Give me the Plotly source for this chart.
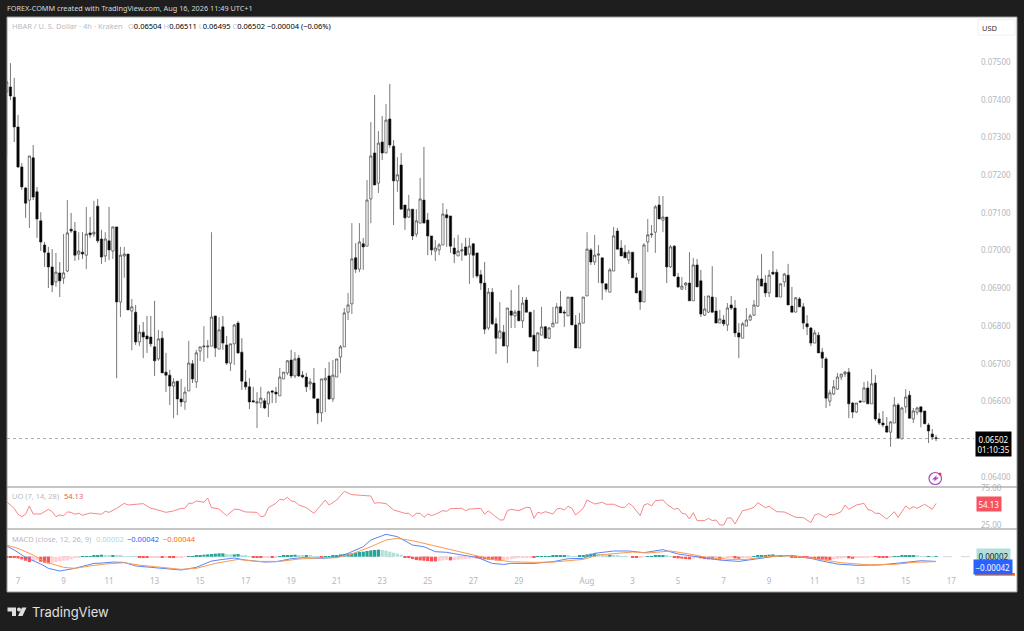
#import modules
import numpy as np
import pandas as pd
import plotly.graph_objects as go
from plotly.subplots import make_subplots

#4h candles, prices in 1/100000 of a dollar
open_e5 = [7421,7434,7407,7328,7222,7166,7134,7246,7156,7079,7015,6994,6957,6917,6941,6927,6946,7057,7052,6991,
           6996,6988,7047,7044,7118,7031,6986,7026,6999,7063,6864,6986,6991,6840,6837,6758,6784,6774,6771,6745,
           6713,6768,6678,6670,6641,6654,6607,6599,6628,6700,6652,6734,6745,6745,6747,6827,6739,6798,6750,6702,
           6753,6808,6731,6652,6639,6602,6596,6596,6602,6594,6628,6625,6615,6660,6676,6710,6668,6715,6670,6665,
           6647,6649,6607,6570,6657,6668,6607,6665,6718,6745,6837,6859,6981,6951,7018,7012,7137,7259,7179,7288,
           7259,7349,7277,7185,7227,7121,7089,7110,7044,7073,7134,7081,7039,6999,7002,7015,7095,7092,7007,6986,
           6999,7010,6991,7018,6994,6936,6914,6795,6890,6806,6768,6784,6747,6840,6827,6840,6814,6869,6837,6776,
           6734,6776,6798,6768,6798,6808,6851,6837,6827,6877,6803,6742,6808,6880,7002,6970,6988,6981,6912,6890,
           6946,7052,7007,6996,6975,6996,6928,6893,6864,7023,7042,7049,7121,7081,7089,6957,7012,6930,6898,6909,
           6914,6867,6962,6920,6829,6837,6877,6840,6808,6816,6803,6856,6848,6782,6768,6800,6816,6829,6853,6925,
           6914,6888,6943,6943,6877,6917,6935,6853,6837,6872,6851,6806,6795,6755,6776,6731,6713,6601,6620,6633,
           6665,6673,6678,6596,6572,6601,6599,6636,6594,6649,6554,6543,6535,6519,6543,6591,6501,6586,6617,6554,
           6572,6586,6575,6538,6514,6504]
high_e5 = [7452,7497,7458,7360,7232,7169,7251,7280,7169,7102,7023,7010,7004,6994,6970,7044,7134,7100,7076,7049,
           7049,7116,7089,7132,7137,7055,7049,7116,7063,7063,7010,7010,6991,6872,6856,6803,6811,6827,6827,6867,
           6790,6787,6729,6684,6662,6654,6660,6639,6761,6710,6737,6745,6800,6763,7049,6827,6824,6827,6774,6753,
           6806,6814,6768,6684,6662,6639,6625,6639,6609,6628,6631,6639,6689,6678,6710,6737,6731,6723,6681,6676,
           6662,6689,6609,6660,6689,6705,6710,6713,6750,6848,6888,7073,7020,7073,7034,7187,7341,7413,7317,7357,
           7389,7442,7293,7248,7259,7121,7148,7110,7110,7193,7275,7100,7039,7028,7020,7126,7110,7092,7034,7042,
           7020,7034,7034,7020,6994,6949,6970,6901,6901,6822,6864,6803,6848,6896,6843,6909,6877,6877,6837,6843,
           6784,6851,6800,6798,6851,6861,6893,6843,6877,6877,6829,6835,6877,7049,7007,7042,7015,6981,6912,6954,
           7063,7060,7028,7015,7002,6996,6941,6896,7020,7084,7068,7121,7145,7145,7089,7015,7015,6941,6930,6917,
           6996,6981,6978,6949,6880,6880,6959,6877,6843,6829,6861,6880,6869,6808,6811,6848,6832,6869,6935,6991,
           6935,6949,6999,6951,6914,6941,6965,6904,6877,6877,6861,6829,6798,6790,6784,6742,6718,6631,6657,6676,
           6673,6681,6689,6599,6596,6604,6652,6654,6686,6670,6570,6575,6559,6548,6612,6596,6586,6633,6628,6583,
           6586,6586,6575,6543,6527,6511]
low_e5 = [7251,7399,7288,7219,7161,7087,7060,7134,7034,6999,6957,6901,6890,6904,6877,6912,6943,7047,6973,6975,
          6978,6951,7034,7036,7020,6965,6970,6975,6978,6662,6824,6928,6843,6736,6750,6747,6715,6729,6745,6668,
          6708,6676,6625,6591,6556,6564,6586,6578,6628,6649,6636,6708,6705,6715,6747,6718,6739,6737,6697,6681,
          6697,6726,6631,6631,6580,6599,6530,6583,6580,6559,6596,6596,6615,6660,6670,6662,6662,6665,6662,6625,
          6631,6609,6540,6546,6572,6604,6599,6665,6676,6745,6816,6832,6941,6943,6949,7012,7073,7174,7153,7240,
          7259,7272,7068,7156,7110,7055,7087,7028,7036,7073,7073,6988,6988,6973,6988,7015,7010,6994,6967,6986,
          6973,6988,6912,6928,6928,6896,6779,6790,6803,6726,6768,6747,6702,6795,6795,6814,6795,6837,6771,6734,
          6692,6776,6768,6766,6798,6808,6835,6798,6827,6803,6742,6742,6808,6880,6962,6962,6914,6869,6890,6890,
          6946,7004,6986,6981,6965,6928,6888,6843,6864,6996,7034,6994,7084,7049,6914,6954,6930,6901,6896,6896,
          6867,6867,6904,6824,6827,6835,6835,6808,6808,6800,6787,6843,6771,6715,6768,6800,6814,6827,6851,6906,
          6877,6877,6935,6877,6877,6904,6856,6837,6837,6851,6792,6776,6747,6755,6729,6689,6583,6588,6617,6631,
          6657,6665,6556,6556,6570,6596,6599,6594,6594,6548,6538,6532,6517,6480,6543,6501,6501,6570,6554,6543,
          6564,6532,6541,6490,6498,6495]
close_e5 = [7447,7410,7328,7222,7169,7126,7251,7142,7084,7023,6996,6957,6909,6943,6920,6941,7047,7052,6988,6999,
            6991,7044,7042,7049,7026,6983,7031,7002,7063,6864,6988,6991,6843,6851,6758,6784,6771,6766,6753,6708,
            6766,6676,6670,6641,6652,6607,6599,6625,6702,6660,6729,6745,6747,6747,6824,6742,6790,6755,6702,6753,
            6803,6729,6654,6639,6599,6599,6599,6609,6583,6625,6625,6620,6665,6678,6708,6668,6713,6668,6665,6639,
            6652,6609,6570,6660,6662,6607,6670,6713,6745,6835,6856,6978,6951,7023,7010,7134,7251,7174,7285,7259,
            7346,7280,7185,7201,7110,7087,7110,7039,7079,7137,7073,7039,7002,7007,7015,7097,7087,7012,6991,6999,
            7002,6988,7012,6988,6933,6914,6792,6890,6806,6768,6787,6747,6848,6829,6837,6814,6861,6837,6771,6734,
            6782,6798,6768,6795,6808,6851,6835,6835,6877,6803,6742,6808,6877,7004,6970,6988,6991,6914,6898,6949,
            7039,7004,6986,6981,6996,6928,6888,6864,7015,7042,7044,7116,7084,7089,6957,7010,6933,6904,6906,6914,
            6867,6962,6904,6832,6845,6880,6837,6808,6819,6806,6848,6848,6782,6771,6806,6816,6827,6856,6925,6906,
            6888,6935,6938,6877,6912,6938,6856,6837,6875,6851,6808,6798,6755,6782,6729,6715,6609,6623,6639,6665,
            6673,6678,6594,6572,6596,6599,6636,6594,6647,6554,6543,6538,6519,6546,6591,6503,6583,6612,6556,6575,
            6583,6572,6541,6522,6506,6502]
day_labels = ["7","9","11","13","15","17","19","21","23","25","27","29","Aug","3","5","7","9","11","13","15","17"]
day_dates = ["2026-07-07","2026-07-09","2026-07-11","2026-07-13","2026-07-15","2026-07-17","2026-07-19","2026-07-21",
             "2026-07-23","2026-07-25","2026-07-27","2026-07-29","2026-08-01","2026-08-03","2026-08-05","2026-08-07",
             "2026-08-09","2026-08-11","2026-08-13","2026-08-15","2026-08-17"]
price_ticks = [0.064,0.066,0.067,0.068,0.069,0.07,0.071,0.072,0.073,0.074,0.075]

#ultimate oscillator, bar number and value at each corner of the line
uo_bar = [0,2,3,4,5,6,7,9,11,12,13,14,15,16,17,18,19,20,22,24,25,26,27,29,31,32,34,36,38,39,42,44,46,47,48,49,50,52,53,54,
          56,58,60,61,63,66,67,68,69,71,72,73,74,75,76,77,79,81,84,85,87,89,91,94,96,97,98,100,102,105,106,107,108,109,110,
          111,112,113,115,116,117,120,121,122,125,126,127,128,130,131,132,133,135,137,138,139,140,141,142,144,145,146,147,
          148,149,150,152,153,155,157,158,160,162,163,164,165,167,168,169,170,171,173,174,176,177,178,179,180,181,182,184,
          185,186,187,188,189,190,191,192,194,195,197,198,200,201,203,205,208,210,212,213,214,216,217,218,220,221,222,224,
          226,227,228,229,230,232,234,235,237,238,239,240,242,244,245]
uo_val = [56.5,47.5,39.5,36.3,39.5,50.7,39.9,39.9,46.2,43,36.3,38.5,37.6,42.6,42.1,39.5,40.8,38.1,41.2,39.9,39.5,43.5,42.1,47.5,
          54.3,52,53,53.9,47.5,46.6,42.1,44,47.5,47.5,54.3,54.3,57.5,55.7,61.5,48.5,46.6,37.6,46.2,46.2,42.6,42.1,36.3,37.2,
          48.5,54.3,59.7,58.8,62.4,57.5,56.5,52,48.5,40.8,58.8,52,58.8,70.5,66,65.1,64.2,54.3,55.2,53.9,45.3,40.8,40.8,36.3,
          40.8,40.8,35.4,39.9,37.6,39.5,44.4,43.5,47.1,47.5,44.4,46.6,47.5,39.5,44.4,39.9,31.8,31.8,44.4,46.2,44.4,48.9,48.5,
          34.1,42.1,40.8,43,39.9,46.6,47.5,45.3,50.3,47.5,38.5,47.5,58.8,53.4,55.7,53,53,48.9,48.9,54.3,50.7,37.6,52,53.9,50.7,
          57.9,58.8,53,46.2,47.5,40.8,39.9,33.1,41.7,30.9,30.9,34.1,30.9,31.8,25,25,34.5,34.5,26.4,44.4,45.3,48.9,55.2,48.5,
          50.3,43,42.6,35.4,35,28.2,38.5,40.3,35,39.5,38.5,43,52,46.2,52,54.3,46.2,44.4,40.8,40.8,33.1,43,35.4,50.7,46.6,49.8,
          47.5,53,46.2,54.13]

#macd and signal corners, same units as the prices
macd_bar = [0,2,5,9,11,14,18,20,23,25,28,31,34,38,42,46,50,54,57,60,63,68,71,75,78,83,87,90,94,96,100,103,107,110,113,116,120,
            124,128,131,133,139,144,148,152,155,160,164,168,173,177,183,188,193,198,203,207,212,215,219,224,230,236,241,245]
macd_e5 = [95,60,-6,-65,-104,-128,-104,-89,-60,-57,-48,-51,-83,-95,-107,-119,-95,-39,-24,-12,-30,-48,-45,-18,-9,-15,-6,30,89,
           149,200,179,104,89,45,39,15,-6,-60,-69,-60,-60,-45,-18,-15,30,51,51,36,63,24,-6,-30,-42,-18,6,12,-15,-39,-66,-77,
           -74,-54,-36,-42]
signal_bar = [0,3,7,10,15,18,22,26,31,35,39,46,50,55,61,66,72,77,83,87,91,96,100,103,107,113,119,124,128,133,139,144,152,156,161,
              165,169,175,180,185,191,195,200,206,211,216,220,227,234,239,245]
signal_e5 = [104,74,15,-45,-95,-104,-83,-65,-54,-75,-89,-113,-104,-60,-24,-42,-42,-21,-9,-9,24,89,149,164,143,95,45,9,-24,-45,
             -51,-48,-24,15,30,42,33,51,24,-9,-24,-24,0,9,-6,-33,-54,-72,-69,-51,-44]
hist_e5 = [-6,-9,-12,-15,-24,-36,-48,-39,-33,-45,-54,-60,-54,-48,-42,-36,-33,-24,-12,-9,
           1,3,6,12,15,18,15,12,15,12,9,6,5,3,2,-3,-9,-12,-9,-6,
           -3,-6,-3,-6,-9,-6,-3,-2,3,6,9,12,18,21,24,27,30,30,24,21,
           21,24,15,9,3,-3,-9,-12,-9,-6,-9,-6,6,9,12,15,18,15,12,12,
           9,6,3,-3,3,6,12,15,21,24,27,30,36,42,45,51,57,60,63,60,
           54,45,36,27,18,-6,-12,-21,-30,-33,-36,-39,-42,-42,-36,-33,-30,-33,-30,-27,
           -24,-21,-18,-15,-15,-18,-24,-27,-30,-33,-36,-30,-27,-24,-18,-12,-9,-6,-3,-3,
           2,2,3,6,9,9,12,12,9,6,3,9,15,21,27,30,24,21,15,18,
           12,9,6,3,0,-6,-9,-3,-2,3,6,9,12,15,9,3,-6,-15,-18,-21,
           -24,-18,-12,-15,-21,-24,-24,-21,-27,-18,-12,-9,-15,-18,-12,-6,-3,6,9,12,
           15,18,21,15,15,6,3,-3,-6,-9,-12,-15,-18,-21,-24,-27,-27,-30,-24,-21,
           -15,-12,-15,-18,-12,-9,-6,-3,-2,-2,-3,-6,-6,-3,3,6,9,9,12,12,
           9,6,3,3,2,2]

#page size and where the panels sit, in pixels
W = 1024
H = 631
def px(x):
    return x / W
def py(y):
    return 1 - y / H

times = pd.date_range("2026-07-06 12:00", periods=len(open_e5), freq="4h")
x_range = ["2026-07-06 12:23", "2026-08-18 00:00"]

#macd bars take their colour from the sign and the change
hist = np.array(hist_e5) / 1e5
hist_colors = []
for i, v in enumerate(hist):
    prev = hist[i - 1] if i > 0 else 0
    if v >= 0:
        hist_colors.append("#26a69a" if v >= prev else "#b2dfdb")
    else:
        hist_colors.append("#ff5252" if v <= prev else "#ffcdd2")

fig = make_subplots(rows=3, cols=1, shared_xaxes=True)

fig.add_trace(go.Candlestick(x=times,
                             open=np.array(open_e5) / 1e5, high=np.array(high_e5) / 1e5,
                             low=np.array(low_e5) / 1e5, close=np.array(close_e5) / 1e5,
                             increasing=dict(line=dict(color="#2a2a2a", width=0.6), fillcolor="#ffffff"),
                             decreasing=dict(line=dict(color="#1a1a1a", width=0.6), fillcolor="#000000"),
                             whiskerwidth=0), row=1, col=1)
fig.add_trace(go.Scatter(x=times[uo_bar], y=uo_val, mode="lines",
                         line=dict(color="#f7787c", width=0.9)), row=2, col=1)
fig.add_trace(go.Bar(x=times, y=hist, marker=dict(color=hist_colors, line=dict(width=0))), row=3, col=1)
fig.add_trace(go.Scatter(x=times[macd_bar], y=np.array(macd_e5) / 1e5, mode="lines",
                         line=dict(color="#5c84f5", width=1)), row=3, col=1)
fig.add_trace(go.Scatter(x=times[signal_bar], y=np.array(signal_e5) / 1e5, mode="lines",
                         line=dict(color="#fb9a50", width=1)), row=3, col=1)

tick_font = dict(family="Noto Sans", size=8, color="#b4b6bd")
fig.update_xaxes(domain=[px(7), px(974)], range=x_range, showgrid=False, zeroline=False, automargin=False,
                 showticklabels=False, ticks="", rangeslider_visible=False)
fig.update_xaxes(row=3, col=1, showticklabels=True, tickmode="array", tickvals=day_dates,
                 ticktext=day_labels, tickfont=tick_font)
fig.update_yaxes(side="right", showgrid=False, zeroline=False, ticks="", tickfont=tick_font, automargin=False,
                 ticklabelstandoff=6)
fig.update_yaxes(row=1, col=1, domain=[py(487), py(17)], range=[0.063735, 0.076194],
                 tickmode="array", tickvals=price_ticks, tickformat=".5f")
fig.update_yaxes(row=2, col=1, domain=[py(529), py(487)], range=[19.6, 76.35],
                 tickmode="array", tickvals=[25, 75], tickformat=".2f")
fig.update_yaxes(row=3, col=1, domain=[py(575), py(529)], range=[-0.001636, 0.002476], showticklabels=False)

def rect(x0, y0, x1, y1, fill, line=None, layer="below"):
    fig.add_shape(type="rect", xref="paper", yref="paper", x0=px(x0), x1=px(x1), y0=py(y0), y1=py(y1),
                  fillcolor=fill, line=dict(color=line or fill, width=1 if line else 0), layer=layer)

def hline(y, x0=7, x1=1017, color="#8c8c8c", width=1):
    fig.add_shape(type="line", xref="paper", yref="paper", x0=px(x0), x1=px(x1), y0=py(y), y1=py(y),
                  line=dict(color=color, width=width), layer="above")

def label(x, y, text, color="#000000", size=8, anchor="left", bg=None, family="Noto Sans", pad=0):
    fig.add_annotation(xref="paper", yref="paper", x=px(x), y=py(y), text=text, showarrow=False,
                       xanchor=anchor, yanchor="middle", font=dict(family=family, size=size, color=color),
                       bgcolor=bg, borderpad=pad, align="center")

#white chart area on the dark page
rect(7, 17, 1017, 592, "#ffffff", "#9a9a9a")
hline(487)
hline(529)

#last price line and zero line of the macd
fig.add_shape(type="line", xref="x", yref="y", x0=x_range[0], x1=x_range[1],
              y0=close_e5[-1] / 1e5, y1=close_e5[-1] / 1e5, line=dict(color="#8a8d96", width=0.7, dash="dot"))
fig.add_shape(type="line", xref="x3", yref="y3", x0=x_range[0], x1=x_range[1], y0=0, y1=0,
              line=dict(color="#c8cad0", width=0.8, dash="dash"), layer="below")

#header texts
label(6, 8.5, "FOREX-COMM created with TradingView.com, Aug 16, 2026 11:49 UTC+1", color="#d8d8d8", size=7.3)
label(11, 26, "HBAR / U. S. Dollar · 4h · Kraken", color="#b8bac2", size=7.5)
label(127, 26, "<span style='color:#c4c6cc'>O</span>0.06504 <span style='color:#c4c6cc'>H</span>0.06511 "
               "<span style='color:#c4c6cc'>L</span>0.06495 <span style='color:#c4c6cc'>C</span>0.06502 "
               "−0.00004 (−0.06%)", size=7.5)
rect(978, 19.5, 1015, 35, "#ffffff", "#efefef")
label(989.5, 28, "USD", color="#333333", size=7.5, anchor="center")

#indicator legends
label(11, 496, "UO (7, 14, 28)", color="#b8bac2", size=7.5)
label(63, 496, "54.13", color="#f7525f", size=7.5)
label(11, 539, "MACD (close, 12, 26, 9)", color="#b8bac2", size=7.5)
label(95, 539, "0.00002", color="#a8dcd6", size=7.5)
label(126, 539, "−0.00042", color="#2962ff", size=7.5)
label(162, 539, "−0.00044", color="#ff6d00", size=7.5)

#boxes on the right scale
label(993.5, 443.5, "0.06502<br>01:10:35", color="#ffffff", size=8, anchor="center", bg="#000000", pad=1.5)
label(989, 504, "54.13", color="#ffffff", size=8, anchor="center", bg="#f7525f", pad=1.5)
label(993, 556, "0.00002", color="#131722", size=8, anchor="center", bg="#b2dfdb", pad=1.5)
label(993, 567, "−0.00042", color="#ffffff", size=8, anchor="center", bg="#2962ff", pad=1.5)
rect(975, 573, 1015, 575.7, "#ff6d00", layer="above")

#purple bolt icon
fig.add_shape(type="circle", xref="paper", yref="paper", x0=px(929), x1=px(941.5), y0=py(484.5), y1=py(472.5),
              line=dict(color="#ab47bc", width=1.2), fillcolor="#ffffff")
fig.add_shape(type="path", xref="paper", yref="paper", line=dict(width=0), fillcolor="#ab47bc",
              path=f"M {px(937)} {py(475)} L {px(932)} {py(479.5)} L {px(935)} {py(479.5)} L {px(933.5)} {py(482)} "
                   f"L {px(939)} {py(477.5)} L {px(936)} {py(477.5)} Z")
fig.add_shape(type="circle", xref="paper", yref="paper", x0=px(938.5), x1=px(941.5), y0=py(475.5), y1=py(472.5),
              line=dict(width=0), fillcolor="#f23645")

#tradingview logo at the bottom
fig.add_shape(type="path", xref="paper", yref="paper", line=dict(width=0), fillcolor="#e0e0e0",
              path=f"M {px(7.5)} {py(607.5)} L {px(16)} {py(607.5)} L {px(16)} {py(616)} L {px(12)} {py(616)} "
                   f"L {px(12)} {py(611.5)} L {px(7.5)} {py(611.5)} Z")
fig.add_shape(type="circle", xref="paper", yref="paper", x0=px(17), x1=px(21), y0=py(611.5), y1=py(607.5),
              line=dict(width=0), fillcolor="#e0e0e0")
fig.add_shape(type="path", xref="paper", yref="paper", line=dict(width=0), fillcolor="#e0e0e0",
              path=f"M {px(22)} {py(607.5)} L {px(26.5)} {py(607.5)} L {px(22.5)} {py(616)} L {px(18)} {py(616)} Z")
label(31, 612, "TradingView", color="#e0e0e0", size=13, family="Inter")

fig.update_layout(width=W, height=H, margin=dict(l=0, r=0, t=0, b=0), paper_bgcolor="#1e1e1e",
                  plot_bgcolor="rgba(0,0,0,0)", showlegend=False, bargap=0.15, barmode="overlay", boxgap=0.14)

fig.write_html("out.html", config=dict(displayModeBar=False),
               post_script="document.body.style.margin='0';document.body.style.overflow='hidden';")
